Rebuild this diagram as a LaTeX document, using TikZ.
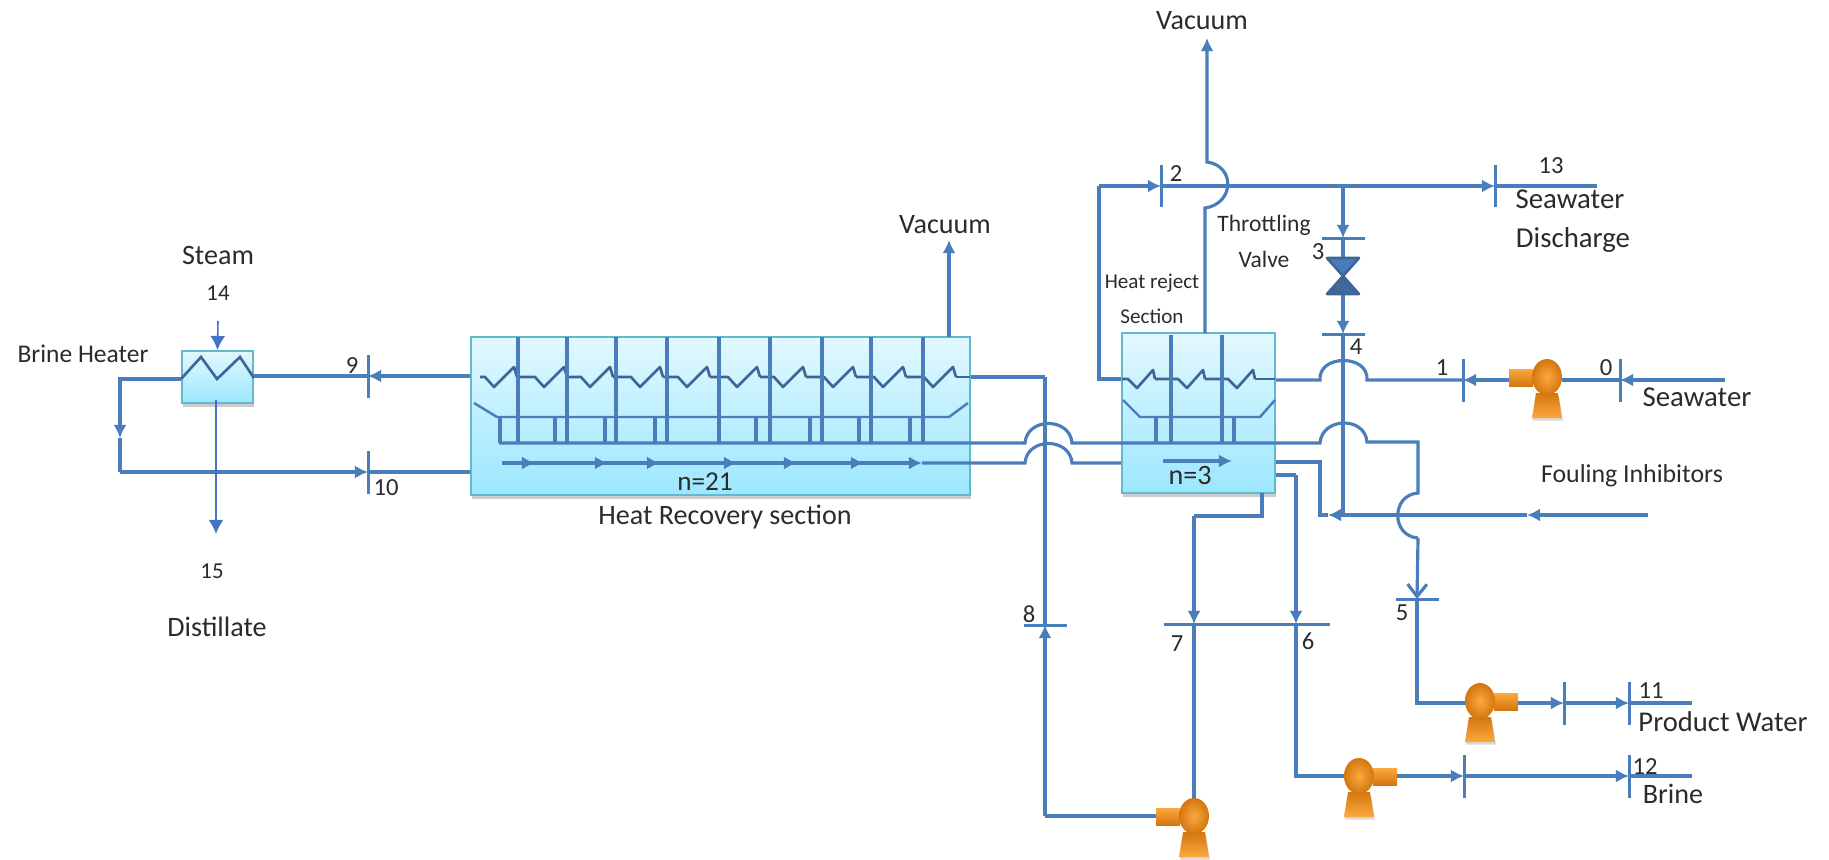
\documentclass[tikz,border=0pt]{standalone}
\usepackage{fontspec}
\setmainfont{Carlito}
\usetikzlibrary{arrows.meta,shadows}
\definecolor{pipeblue}{HTML}{4A7EBB}
\definecolor{tubeblue}{HTML}{3D6596}
\definecolor{thinblue}{HTML}{4472C4}
\definecolor{unitedge}{HTML}{62B9CE}
\definecolor{unittop}{HTML}{E2F8FF}
\definecolor{unitbot}{HTML}{9CE7FF}
\definecolor{pumplight}{HTML}{FBA93F}
\definecolor{pumpdark}{HTML}{D4760F}
\definecolor{labelgray}{gray}{0.17}
\newcommand{\sz}[1]{\fontsize{#1}{#1}\selectfont}
\newcommand{\hopup}{.. controls +(2,-26) and +(-2,-26) ..}
\tikzset{
    pipe/.style={draw=pipeblue, line width=1.8pt},
    flow/.style={pipe, -{Latex[length=7.5pt,width=7.5pt]}},
    tube/.style={draw=tubeblue, line width=1.5pt},
    thin flow/.style={draw=thinblue, line width=0.9pt, -{Latex[length=8pt,width=8.5pt]}},
    vtick/.style={fill=pipeblue, inner sep=0pt, minimum width=0.06cm, minimum height=0.86cm},
    htick/.style={fill=pipeblue, inner sep=0pt, minimum width=0.86cm, minimum height=0.06cm},
    unit/.style={draw=unitedge, line width=1.1pt, top color=unittop, bottom color=unitbot,
        inner sep=0pt, drop shadow={shadow xshift=0.6pt, shadow yshift=-2pt, opacity=0.4}},
    lbl/.style={inner sep=0pt, text=labelgray},
    pics/pump/.style={code={
        \shade[top color=pumpdark, bottom color=pumplight,
            drop shadow={shadow xshift=0.5pt, shadow yshift=-1.5pt, opacity=0.3}]
            (-11,16) -- (11,16) -- (15,41) -- (-15,41) -- cycle;
        \shade[top color=pumplight, bottom color=pumpdark] (-38,-8) rectangle (-14,9);
        \shade[inner color=pumplight, outer color=pumpdark] (0,0) ellipse (15 and 18);
        \coordinate (-suction) at (15,0);
        \coordinate (-discharge) at (-38,0);
    }},
}
\begin{document}
\begin{tikzpicture}[x=0.02cm, y=-0.02cm]
    \useasboundingbox (0,0) rectangle (1829,859);

    % units
    \node[unit, minimum width=1.42cm, minimum height=1.04cm] (heater) at (217.5,377) {};
    \node[unit, minimum width=9.98cm, minimum height=3.16cm] (recovery) at (720.5,416) {};
    \node[unit, minimum width=3.06cm, minimum height=3.2cm] (reject) at (1198.5,413) {};

    % heater coil
    \draw[tube] (heater.west |- 0,379) -- (201,357) -- (217,379) -- (240,357) -- (heater.east |- 0,378);

    % recovery section internals
    \foreach \zx [remember=\zx as \zprev (initially 457)] in {494,544,590,640,687,737,783,833,883,933} {
        \draw[tube, line join=round] (\zprev+23,377) -- (\zx-9,377) -- (\zx,387) -- (\zx+20,367) -- (\zx+23,377);
    }
    \draw[tube] (956,377) -- (970,377);
    \foreach \wx in {518,567,616,667,719,770,822,871,923} {
        \draw[pipe] (\wx,337) -- (\wx,443);
    }
    \draw[pipe, line width=1.4pt] (474,403) -- (497,417) -- (949,417) -- (968,403);
    \foreach \wx in {500,555,605,655,756,810,859,910} {
        \draw[pipe] (\wx,417) -- (\wx,443);
    }
    \foreach \tipx in {535,608,660,737,797,864,922} {
        \draw[flow] (502,463) -- (\tipx,463);
    }

    % reject section internals
    \foreach \zx [remember=\zx as \zprev (initially 1104)] in {1137,1187,1237} {
        \draw[tube, line join=round] (\zprev+18,379) -- (\zx-9,379) -- (\zx,388) -- (\zx+16,370) -- (\zx+18,379);
    }
    \draw[tube] (1255,379) -- (1275,379);
    \foreach \wx in {1171,1222} {
        \draw[pipe] (\wx,335) -- (\wx,442);
    }
    \draw[pipe, line width=1.4pt] (1123,400) -- (1140,417) -- (1260,417) -- (1275,400);
    \foreach \wx in {1156,1234} {
        \draw[pipe] (\wx,417) -- (\wx,442);
    }
    \draw[flow] (1163,461) -- (1232,461);

    % stream ticks
    \node[vtick] (t0) at (1620,380) {};
    \node[vtick] (t1) at (1463,380) {};
    \node[vtick] (t2) at (1161,186) {};
    \node[htick] (t3) at (1343,238) {};
    \node[htick] (t4) at (1343,334) {};
    \node[htick] (t5) at (1417,599) {};
    \node[htick, minimum width=3.32cm] (t67) at (1247,624) {};
    \node[htick] (t8) at (1045,625) {};
    \node[vtick] (t9) at (368,376) {};
    \node[vtick] (t10) at (368,472) {};
    \node[vtick] (t11) at (1629,703) {};
    \node[vtick] (t11a) at (1564,703) {};
    \node[vtick] (t12) at (1629,776) {};
    \node[vtick] (t12a) at (1464,776) {};
    \node[vtick] (t13) at (1495,186) {};

    % pumps
    \pic (feedpump) at (1547,377) {pump};
    \pic[xscale=-1] (productpump) at (1480,701) {pump};
    \pic[xscale=-1] (brinepump) at (1359,776) {pump};
    \pic (recyclepump) at (1194,816) {pump};

    % seawater feed
    \draw[flow] (1725,380) -- (t0.center);
    \draw[pipe] (t0.center) -- (feedpump-suction |- t0.center);
    \draw[flow] (feedpump-discharge |- t1.center) -- (t1.center);
    \draw[pipe] (t1.center) -- (1367,380) \hopup (1320,380) -- (reject.east |- 0,380);
    \draw[pipe] (reject.west |- 0,379) -- (1099,379) -- (1099,186);
    \draw[flow] (1099,186) -- (t2.center);
    \draw[pipe] (t2.center) -- (1228,186);
    \draw[flow] (1228,186) -- (t13.center);
    \draw[pipe] (t13.center) -- (1597,186);

    % throttling branch
    \draw[flow] (1343,186) -- (t3.center);
    \draw[pipe] (t3.center) -- (1343,276);
    \draw[flow] (1343,276) -- (t4.center);
    \draw[pipe] (t4.center) -- (1343,515);
    \fill[pipeblue, draw=tubeblue, line width=1.5pt, line join=round]
        (1327,258) -- (1359,258) -- (1343,276) -- cycle;
    \fill[tubeblue!85!pipeblue, draw=tubeblue, line width=1.5pt, line join=round]
        (1343,276) -- (1359,294) -- (1327,294) -- cycle;

    % vacuum lines
    \draw[pipe, -{Latex[length=7.5pt,width=7.5pt]}] (1205,333) -- (1205,208)
        .. controls +(29,-4) and +(29,4) .. (1207,162) -- (1207,38);
    \draw[flow] (949,337) -- (949,240);

    % fouling inhibitors
    \draw[flow] (1648,515) -- (1527,515);
    \draw[flow] (1527,515) -- (1328,515);
    \draw[pipe] (1328,515) -- (1320,515) -- (1320,462) -- (reject.east |- 0,462);

    % recycle lines across recovery section
    \draw[pipe] (recovery.east |- 0,377) -- (1045,377);
    \draw[pipe] (1045,377) -- (t8.center);
    \draw[pipe] (499,443) -- (1025,443) \hopup (1072,443) -- (1320,443) \hopup (1367,442) -- (1418,442)
        -- (1418,493) .. controls +(-27,2) and +(-27,-2) .. (1418,538);
    \draw[pipe, -{Straight Barb[length=7pt,width=11pt]}] (1418,538) -- (t5.center);
    \draw[pipe] (t5.center) -- (1417,703) -- (productpump-suction |- 0,703);
    \draw[pipe] (922,463) -- (1025,463) \hopup (1072,463) -- (reject.west |- 0,463);

    % blowdown and product
    \draw[flow] (productpump-discharge |- t11a.center) -- (t11a.center);
    \draw[flow] (t11a.center) -- (t11.center);
    \draw[pipe] (t11.center) -- (1692,703);
    \draw[pipe] (reject.east |- 0,475) -- (1296,475);
    \draw[flow] (1296,475) -- (1296,624);
    \draw[pipe] (1296,624) -- (1296,776) -- (brinepump-suction);
    \draw[flow] (brinepump-discharge) -- (t12a.center);
    \draw[flow] (t12a.center) -- (t12.center);
    \draw[pipe] (t12.center) -- (1692,776);
    \draw[pipe] (1262,493) -- (1262,516) -- (1194,516);
    \draw[flow] (1194,516) -- (1194,624);
    \draw[pipe] (1194,624) -- (1194,798);
    \draw[pipe] (recyclepump-discharge) -- (1045,816);
    \draw[flow] (1045,816) -- (t8.center);

    % brine heater loop
    \draw[flow] (recovery.west |- 0,376) -- (t9.center);
    \draw[pipe] (t9.center) -- (heater.east |- 0,376);
    \draw[flow] (heater.west |- 0,379) -- (120,379) -- (120,438);
    \draw[pipe] (120,438) -- (120,472);
    \draw[flow] (120,472) -- (t10.center);
    \draw[pipe] (t10.center) -- (recovery.west |- 0,472);
    \draw[thin flow] (218,321) -- (heater.north);
    \draw[thin flow] (216,400) -- (216,534);

    % labels
    \node[lbl, font=\sz{16}] (steam) at (218,255) {Steam};
    \node[lbl, font=\sz{13}] (n14) at (218,293) {14};
    \node[lbl, font=\sz{14.5}] (heaterlbl) at (83,354) {Brine Heater};
    \node[lbl, font=\sz{13}] (n15) at (212,571) {15};
    \node[lbl, font=\sz{16}] (distillate) at (217,627) {Distillate};
    \node[lbl, font=\sz{14}] (n9) at (352,366) {9};
    \node[lbl, font=\sz{14}] (n10) at (386,488) {10};
    \node[lbl, font=\sz{16}] (vacuuma) at (945,225) {Vacuum};
    \node[lbl, font=\sz{15.5}] (hrn) at (705,482) {n=21};
    \node[lbl, font=\sz{16}] (hrlbl) at (725,517) {Heat Recovery section};
    \node[lbl, font=\sz{16}] (vacuumb) at (1202,21) {Vacuum};
    \node[lbl, font=\sz{14}] (n2) at (1176,174) {2};
    \node[lbl, font=\sz{14}] (n13) at (1551,166) {13};
    \node[lbl, font=\sz{16.4}] (discharge1) at (1570,199) {Seawater};
    \node[lbl, font=\sz{16.4}] (discharge2) at (1573,240) {Discharge};
    \node[lbl, font=\sz{13.4}] (throttle1) at (1264,225) {Throttling};
    \node[lbl, font=\sz{13.4}] (throttle2) at (1264,259) {Valve};
    \node[lbl, font=\sz{12}] (reject1) at (1152,283) {Heat reject};
    \node[lbl, font=\sz{12}] (reject2) at (1152,316) {Section};
    \node[lbl, font=\sz{16}] (hjn) at (1190,475) {n=3};
    \node[lbl, font=\sz{14}] (n3) at (1318,252) {3};
    \node[lbl, font=\sz{14}] (n4) at (1356,347) {4};
    \node[lbl, font=\sz{14}] (n1) at (1442,368) {1};
    \node[lbl, font=\sz{14}] (n0) at (1606,368) {0};
    \node[lbl, font=\sz{16.4}] (seawater) at (1697,397) {Seawater};
    \node[lbl, font=\sz{14.7}] (fouling) at (1632,476) {Fouling Inhibitors};
    \node[lbl, font=\sz{14}] (n5) at (1402,613) {5};
    \node[lbl, font=\sz{14}] (n6) at (1308,641) {6};
    \node[lbl, font=\sz{14}] (n7) at (1177,644) {7};
    \node[lbl, font=\sz{14}] (n8) at (1029,614) {8};
    \node[lbl, font=\sz{14}] (n11) at (1651,691) {11};
    \node[lbl, font=\sz{16.3}] (product) at (1723,722) {Product Water};
    \node[lbl, font=\sz{14}] (n12) at (1645,767) {12};
    \node[lbl, font=\sz{16}] (brine) at (1673,794) {Brine};
\end{tikzpicture}
\end{document}
